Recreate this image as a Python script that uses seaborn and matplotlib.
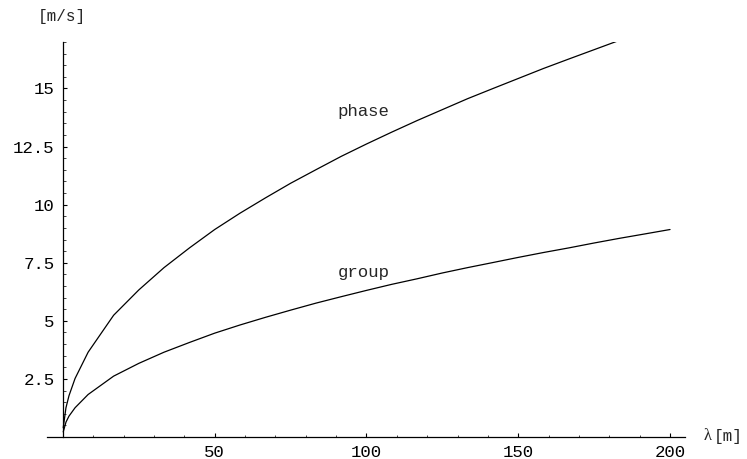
import matplotlib
matplotlib.use("Agg")
from matplotlib import pyplot as plt
import matplotlib.ticker as mtick
import pandas as pd
import seaborn as sns

# wavelength [m] and velocities [m/s]
wavelength = [0.1, 1, 2, 4, 8.3, 16.7, 25, 33.3, 41.7, 50, 58.3, 66.7, 75, 83.3,
              91.7, 100, 108.3, 116.7, 125, 133.3, 141.7, 150, 158.3, 166.7,
              175, 183.3, 191.7, 200]
phase = [0.40, 1.26, 1.78, 2.52, 3.65, 5.24, 6.33, 7.29, 8.14, 8.93, 9.63, 10.29,
         10.92, 11.50, 12.08, 12.61, 13.12, 13.62, 14.09, 14.56, 15.00, 15.43,
         15.86, 16.27, 16.67, 17.07, 17.45, 17.82]
group = [0.22, 0.64, 0.90, 1.26, 1.83, 2.62, 3.17, 3.65, 4.07, 4.47, 4.82, 5.15,
         5.46, 5.76, 6.04, 6.31, 6.57, 6.81, 7.06, 7.29, 7.51, 7.73, 7.94, 8.14,
         8.35, 8.55, 8.74, 8.93]

x_ticks = [50, 100, 150, 200]
y_ticks = [2.5, 5, 7.5, 10, 12.5, 15]
y_labels = ["2.5", "5", "7.5", "10", "12.5", "15"]

df = pd.DataFrame({"lam": wavelength * 2,
                   "v": phase + group,
                   "kind": ["phase"] * len(phase) + ["group"] * len(group)})

sns.set_style("white")
mono = "Liberation Mono"
plt.rcParams["font.family"] = [mono, "DejaVu Sans"]

fig = plt.figure(figsize=(7.47, 4.59), dpi=100)
ax = fig.add_axes([0.0627, 0.0479, 0.8546, 0.8606])
sns.lineplot(data=df, x="lam", y="v", units="kind", estimator=None,
             color="black", lw=0.9, ax=ax, legend=False)
for ln in ax.lines:
    ln.set_clip_on(True)

ax.set_xlim(-5.3, 205)
ax.set_ylim(0, 17)
ax.set_xlabel("")
ax.set_ylabel("")

ax.spines["top"].set_visible(False)
ax.spines["right"].set_visible(False)
ax.spines["left"].set_position(("data", 0))
for s in ("left", "bottom"):
    ax.spines[s].set_linewidth(0.9)
    ax.spines[s].set_color("black")

ax.set_xticks(x_ticks)
ax.set_xticklabels([str(t) for t in x_ticks])
ax.set_yticks(y_ticks)
ax.set_yticklabels(y_labels)
ax.xaxis.set_minor_locator(mtick.MultipleLocator(10))
ax.yaxis.set_minor_locator(mtick.MultipleLocator(0.5))
ax.tick_params(which="major", direction="in", length=3.2, width=0.8,
               labelsize=12.5, pad=6, colors="black")
ax.tick_params(which="minor", direction="in", length=1.8, width=0.6)
ax.tick_params(axis="x", which="both", bottom=True)
ax.tick_params(axis="y", which="both", left=True)

ax.text(90.5, 14.0, "phase", fontsize=12.5, va="center", ha="left")
ax.text(90.5, 7.07, "group", fontsize=12.5, va="center", ha="left")

fig.text(61.5 / 747, 1 - 16 / 459, "[m/s]", fontsize=11.5, ha="center", va="center")
fig.text(704 / 747, 1 - 436 / 459, "λ", fontsize=12, ha="left", va="center",
         family=["Liberation Serif", "DejaVu Serif"])
fig.text(714 / 747, 1 - 436 / 459, "[m]", fontsize=11.5, ha="left", va="center")

fig.savefig("out.png", dpi=100)
